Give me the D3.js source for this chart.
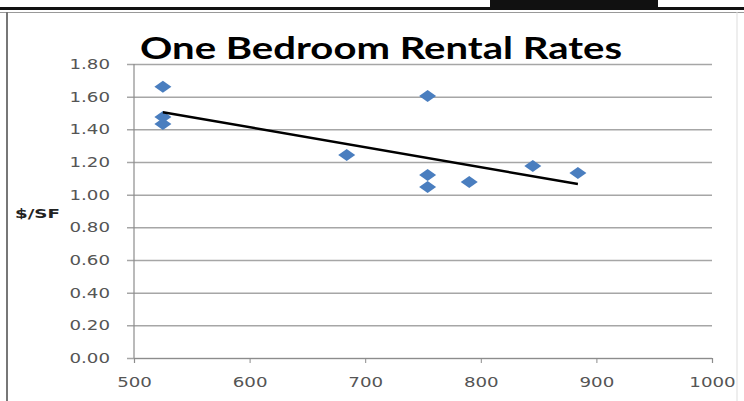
<!DOCTYPE html>
<html>
<head>
<meta charset="utf-8">
<script src="https://cdn.jsdelivr.net/npm/d3@7"></script>
<style>
  body { margin: 0; background: #fff; }
  svg { display: block; }
</style>
</head>
<body>
<div id="graphic"></div>
<script>
// Data
const sqft = [525, 525, 525, 684, 754, 754, 754, 790, 845, 884];
const rate = [1.66, 1.476, 1.433, 1.243, 1.604, 1.12, 1.047, 1.078, 1.176, 1.133];
const trendX = [525, 884];
const trendY = [1.505, 1.065];
const xTicks = [500, 600, 700, 800, 900, 1000];
const yTicks = [0, 0.2, 0.4, 0.6, 0.8, 1.0, 1.2, 1.4, 1.6, 1.8];

const W = 744, H = 401;
const margin = { top: 64, right: 32, bottom: 43, left: 134 };
const width = 712 - margin.left;
const height = 358 - margin.top;

// the source picture is a bit wider than tall, so the text is stretched
function stretch(sel, k) {
  sel.each(function () {
    const len = this.getComputedTextLength();
    d3.select(this).attr("textLength", len * k).attr("lengthAdjust", "spacingAndGlyphs");
  });
}

const svg = d3.select("#graphic")
  .append("svg")
  .attr("width", W)
  .attr("height", H);

// page frame bits
svg.append("rect").attr("x", 490).attr("y", 0).attr("width", 168).attr("height", 7).attr("fill", "#111");
svg.append("rect").attr("x", 0).attr("y", 7).attr("width", W).attr("height", 3).attr("fill", "#111");
svg.append("line").attr("x1", 0).attr("x2", W).attr("y1", 12.5).attr("y2", 12.5)
  .attr("stroke", "#999").attr("stroke-width", 1);
svg.append("line").attr("x1", 7).attr("x2", 7).attr("y1", 12).attr("y2", H)
  .attr("stroke", "#777").attr("stroke-width", 2);
svg.append("line").attr("x1", 737).attr("x2", 737).attr("y1", 12).attr("y2", H)
  .attr("stroke", "#ddd").attr("stroke-width", 1);

const g = svg.append("g")
  .attr("transform", `translate(${margin.left},${margin.top})`);

const x = d3.scaleLinear().domain([500, 1000]).range([0, width]);
const y = d3.scaleLinear().domain([0, 1.8]).range([height, 0]);

// gridlines + y axis
const yAxis = g.append("g")
  .call(d3.axisLeft(y).tickValues(yTicks).tickSize(-width).tickPadding(24)
    .tickFormat(d3.format(".2f")));
yAxis.select(".domain").remove();
yAxis.selectAll(".tick line")
  .attr("x1", -7)
  .attr("stroke", "#a6a6a6").attr("stroke-width", 1.5);
yAxis.selectAll(".tick text")
  .attr("font-family", "DejaVu Sans, Verdana, sans-serif")
  .attr("font-size", 14).attr("fill", "#555")
  .call(stretch, 1.3);

g.append("line").attr("x1", 0).attr("x2", 0).attr("y1", 0).attr("y2", height)
  .attr("stroke", "#8c8c8c").attr("stroke-width", 1.2);

// x axis
const xAxis = g.append("g")
  .attr("transform", `translate(0,${height})`)
  .call(d3.axisBottom(x).tickValues(xTicks).tickSize(5).tickPadding(14).tickFormat(d3.format("d")));
xAxis.select(".domain").attr("stroke", "#8c8c8c").attr("stroke-width", 1.2);
xAxis.selectAll(".tick line").attr("stroke", "#8c8c8c");
xAxis.selectAll(".tick text")
  .attr("font-family", "DejaVu Sans, Verdana, sans-serif")
  .attr("font-size", 14).attr("fill", "#555")
  .call(stretch, 1.3);

// points
const pts = sqft.map((d, i) => ({ x: d, y: rate[i] }));
g.selectAll(".pt")
  .data(pts)
  .join("path")
  .attr("class", "pt")
  .attr("d", "M0,-6L8.5,0L0,6L-8.5,0Z")
  .attr("transform", d => `translate(${x(d.x)},${y(d.y)})`)
  .attr("fill", "#4a7ebf");

// trendline
const trend = trendX.map((d, i) => [x(d), y(trendY[i])]);
g.append("path")
  .attr("d", d3.line()(trend))
  .attr("stroke", "#000").attr("stroke-width", 2.5).attr("fill", "none");

// title
svg.append("text")
  .attr("x", 381).attr("y", 59)
  .attr("text-anchor", "middle")
  .attr("font-family", "Lato, sans-serif")
  .attr("font-weight", "bold")
  .attr("font-size", 31)
  .attr("fill", "#000")
  .text("One Bedroom Rental Rates")
  .attr("textLength", 482).attr("lengthAdjust", "spacingAndGlyphs");

// y label
svg.append("text")
  .attr("x", 15).attr("y", 218)
  .attr("font-family", "DejaVu Sans, sans-serif")
  .attr("font-weight", "bold")
  .attr("font-size", 13)
  .attr("fill", "#222")
  .text("$/SF")
  .attr("textLength", 45).attr("lengthAdjust", "spacingAndGlyphs");
</script>
</body>
</html>
